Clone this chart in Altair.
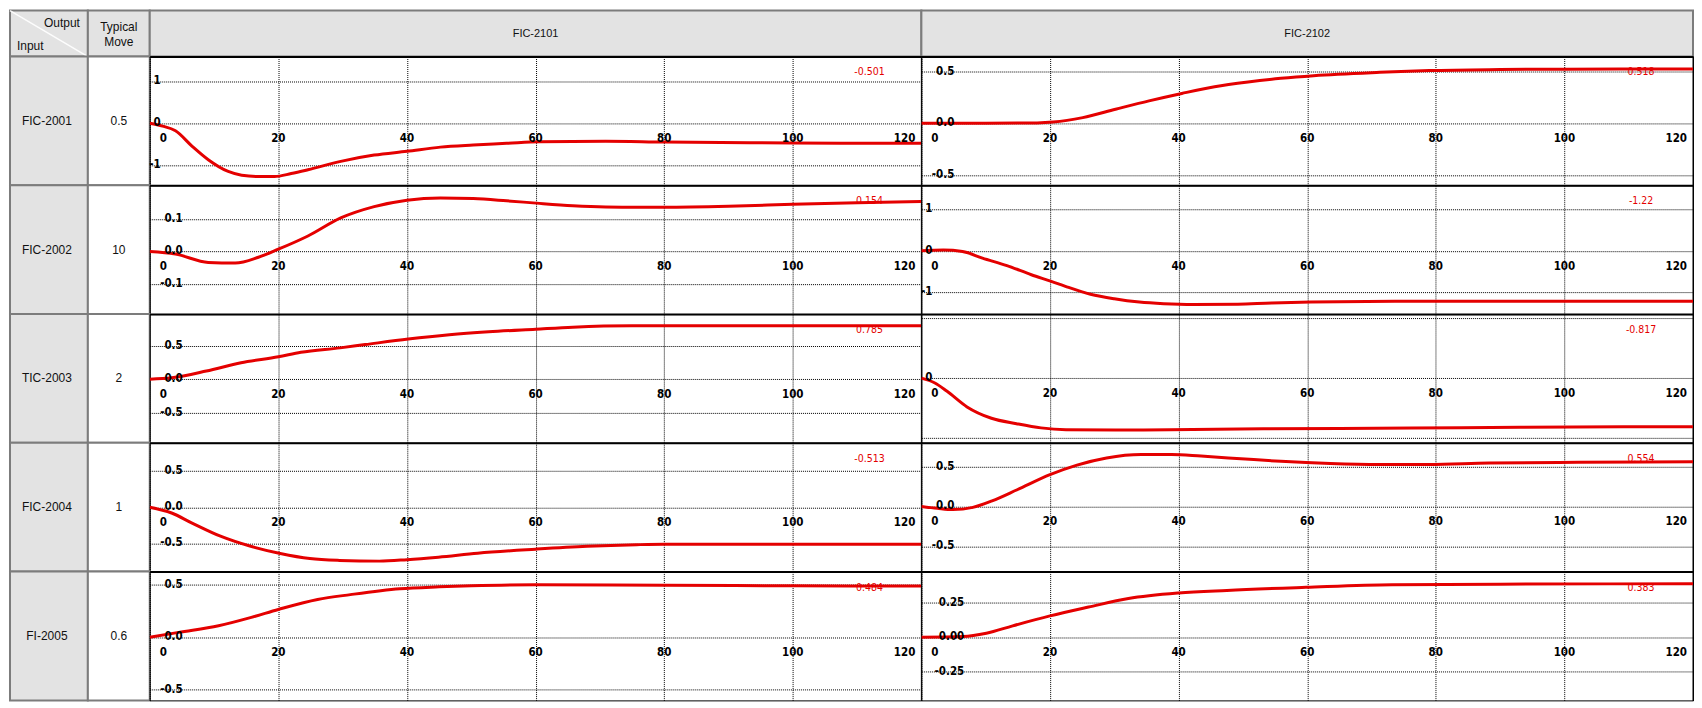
import altair as alt
import pandas as pd

# ---------------- data ----------------
inputs = ["FIC-2001", "FIC-2002", "TIC-2003", "FIC-2004", "FI-2005"]
typical_moves = ["0.5", "10", "2", "1", "0.6"]
outputs = ["FIC-2101", "FIC-2102"]
corner_top = "Output"
corner_bottom = "Input"
move_header = "Typical\nMove"

x_ticks = [0, 20, 40, 60, 80, 100, 120]
x_tick_labels = ["0", "20", "40", "60", "80", "100", "120"]

# FIC-2001 -> FIC-2101
t_11 = [0, 2, 4, 6.6, 9.1, 12.2, 14.3, 17, 19.4, 22, 24.6, 29.7, 34.9, 40, 45.2, 50.3, 55.5, 60.6, 70.9, 80, 100, 120]
v_11 = [0, -0.07, -0.18, -0.55, -0.87, -1.15, -1.24, -1.27, -1.27, -1.2, -1.11, -0.91, -0.76, -0.67, -0.57, -0.52, -0.48, -0.44, -0.43, -0.45, -0.47, -0.48]
yd_11 = [-1.48, 1.59]
yg_11 = [-1, 0, 1]
yl_11 = ["-1", "0", "1"]
gain_11 = "-0.501"

# FIC-2001 -> FIC-2102
t_12 = [0, 10, 18, 20.5, 25.1, 30.2, 35.4, 40.5, 45.6, 50.8, 55.9, 61, 71.3, 79, 90, 100, 120]
v_12 = [0, 0, 0.004, 0.012, 0.055, 0.136, 0.217, 0.289, 0.354, 0.40, 0.435, 0.461, 0.493, 0.51, 0.52, 0.524, 0.526]
yd_12 = [-0.60, 0.646]
yg_12 = [-0.5, 0, 0.5]
yl_12 = ["-0.5", "0.0", "0.5"]
gain_12 = "0.518"

# FIC-2002 -> FIC-2101
t_21 = [0, 4, 9.1, 13.3, 16.9, 20, 24.6, 29.7, 34.9, 40, 45.2, 50.3, 55.5, 60.6, 65.8, 70.9, 76, 80, 90, 100, 110, 120]
v_21 = [0, -0.008, -0.034, -0.036, -0.018, 0.007, 0.048, 0.104, 0.139, 0.159, 0.166, 0.164, 0.157, 0.149, 0.142, 0.138, 0.137, 0.137, 0.14, 0.146, 0.151, 0.155]
yd_21 = [-0.194, 0.205]
yg_21 = [-0.1, 0, 0.1]
yl_21 = ["-0.1", "0.0", "0.1"]
gain_21 = "0.154"

# FIC-2002 -> FIC-2102
t_22 = [0, 3.4, 6.4, 9.5, 13.3, 17.1, 20.2, 22.4, 26.3, 30, 33.9, 37.7, 42.3, 49.2, 54.5, 60.6, 75.9, 90, 120]
v_22 = [0, 0.015, -0.02, -0.18, -0.36, -0.58, -0.74, -0.86, -1.05, -1.16, -1.24, -1.28, -1.30, -1.29, -1.26, -1.24, -1.22, -1.22, -1.22]
yd_22 = [-1.53, 1.58]
yg_22 = [-1, 0, 1]
yl_22 = ["-1", "0", "1"]
gain_22 = "-1.22"

# TIC-2003 -> FIC-2101
t_31 = [0, 3.4, 8.8, 14.2, 20, 23.5, 29.6, 33.5, 40.2, 46.6, 52.7, 60, 65.8, 75, 80, 120]
v_31 = [0, 0.02, 0.12, 0.245, 0.333, 0.40, 0.466, 0.515, 0.598, 0.662, 0.706, 0.745, 0.775, 0.795, 0.795, 0.795]
yd_31 = [-0.95, 0.97]
yg_31 = [-0.5, 0, 0.5]
yl_31 = ["-0.5", "0.0", "0.5"]
gain_31 = "0.785"

# TIC-2003 -> FIC-2102
t_32 = [0, 2.1, 4, 7.1, 10.9, 14.8, 18.6, 22.5, 30.2, 38.6, 53.2, 76.3, 93.2, 120]
v_32 = [0, -0.08, -0.22, -0.48, -0.67, -0.76, -0.83, -0.86, -0.866, -0.86, -0.845, -0.834, -0.818, -0.81]
yd_32 = [-1.08, 1.07]
yg_32 = [-1, 0, 1]
yl_32 = ["", "0", ""]
gain_32 = "-0.817"

# FIC-2004 -> FIC-2101
t_41 = [0, 3.4, 6.5, 11, 15.7, 20.3, 24.9, 29.5, 35.7, 40, 44.9, 51, 60, 68, 75.7, 80, 120]
v_41 = [0, -0.08, -0.215, -0.40, -0.54, -0.64, -0.71, -0.735, -0.745, -0.725, -0.69, -0.635, -0.58, -0.54, -0.518, -0.512, -0.512]
yd_41 = [-0.89, 0.89]
yg_41 = [-0.5, 0, 0.5]
yl_41 = ["-0.5", "0.0", "0.5"]
gain_41 = "-0.513"

# FIC-2004 -> FIC-2102
t_42 = [0, 2.5, 4.9, 8, 11, 14.9, 20, 24.2, 28.8, 34.2, 38.9, 43.5, 49.7, 55.9, 63.6, 71.3, 79, 88.3, 102.2, 120]
v_42 = [0, -0.024, -0.04, -0.012, 0.07, 0.21, 0.40, 0.52, 0.61, 0.653, 0.653, 0.633, 0.60, 0.567, 0.539, 0.527, 0.527, 0.547, 0.555, 0.563]
yd_42 = [-0.82, 0.80]
yg_42 = [-0.5, 0, 0.5]
yl_42 = ["-0.5", "0.0", "0.5"]
gain_42 = "0.554"

# FI-2005 -> FIC-2101
t_51 = [0, 4.5, 10.7, 15.8, 20, 26.1, 31.2, 38.9, 45, 50, 60, 80, 100, 120]
v_51 = [0, 0.047, 0.11, 0.19, 0.265, 0.36, 0.406, 0.462, 0.48, 0.49, 0.50, 0.495, 0.49, 0.487]
yd_51 = [-0.60, 0.625]
yg_51 = [-0.5, 0, 0.5]
yl_51 = ["-0.5", "0.0", "0.5"]
gain_51 = "0.484"

# FI-2005 -> FIC-2102
t_52 = [0, 6.5, 10.1, 14.2, 20, 26, 32.2, 40, 47.5, 59.8, 73.2, 90, 120]
v_52 = [0, 0.005, 0.029, 0.083, 0.155, 0.219, 0.281, 0.321, 0.34, 0.362, 0.381, 0.385, 0.388]
yd_52 = [-0.457, 0.476]
yg_52 = [-0.25, 0, 0.25]
yl_52 = ["-0.25", "0.00", "0.25"]
gain_52 = "0.383"

panel_data = [
    [(t_11, v_11, yd_11, yg_11, yl_11, gain_11), (t_12, v_12, yd_12, yg_12, yl_12, gain_12)],
    [(t_21, v_21, yd_21, yg_21, yl_21, gain_21), (t_22, v_22, yd_22, yg_22, yl_22, gain_22)],
    [(t_31, v_31, yd_31, yg_31, yl_31, gain_31), (t_32, v_32, yd_32, yg_32, yl_32, gain_32)],
    [(t_41, v_41, yd_41, yg_41, yl_41, gain_41), (t_42, v_42, yd_42, yg_42, yl_42, gain_42)],
    [(t_51, v_51, yd_51, yg_51, yl_51, gain_51), (t_52, v_52, yd_52, yg_52, yl_52, gain_52)],
]

# ---------------- style ----------------
W_IN, W_TM, W_P = 78, 62, 773
H_HEAD, H_ROW = 46, 129
RED = "#e40000"
HEAD_FILL = "#e3e3e3"
CELL_BORDER = "#7c7c7c"
TICK_FONT = "DejaVu Sans Condensed, DejaVu Sans"
TABLE_FONT = "Liberation Sans"


def panel(t, v, ydom, ygrid, ylabels, gain):
    xsc = alt.Scale(domain=[0, 120], nice=False, zero=False)
    ysc = alt.Scale(domain=ydom, nice=False, zero=False)
    xax = alt.Axis(orient="top", values=x_ticks, grid=True, gridColor="black",
                   gridDash=[1, 1], gridWidth=1, gridOpacity=1, labels=False,
                   ticks=False, domain=True, domainColor="black", domainWidth=2,
                   title=None, minExtent=0, maxExtent=0)
    yax = alt.Axis(orient="right", values=ygrid, grid=True, gridColor="black",
                   gridDash=[1, 1], gridWidth=1, gridOpacity=1, labels=False,
                   ticks=False, domain=True, domainColor="black", domainWidth=2,
                   title=None, minExtent=0, maxExtent=0)
    X = alt.X("t:Q", scale=xsc, axis=xax)
    Y = alt.Y("v:Q", scale=ysc, axis=yax)

    line = alt.Chart(pd.DataFrame({"t": t, "v": v})).mark_line(
        color=RED, strokeWidth=3, interpolate="monotone", clip=True
    ).encode(x=X, y=Y)

    maxlen = max(len(s.lstrip("-")) for s in ylabels)
    right_edge = {1: 11, 3: 33, 4: 43}.get(maxlen, 33)
    ylab_df = pd.DataFrame({"t": [x_ticks[0]] * len(ygrid), "v": ygrid, "lab": ylabels})
    ylab = alt.Chart(ylab_df).mark_text(
        align="right", baseline="middle", dx=right_edge, font=TICK_FONT,
        fontSize=11.5, fontWeight="bold", color="black"
    ).encode(x=X, y=Y, text="lab:N")

    def xl(idx, align, dx):
        df = pd.DataFrame({"t": [x_ticks[i] for i in idx], "v": [0] * len(idx),
                           "lab": [x_tick_labels[i] for i in idx]})
        return alt.Chart(df).mark_text(
            align=align, baseline="alphabetic", dx=dx, dy=19, font=TICK_FONT,
            fontSize=11.5, fontWeight="bold", color="black"
        ).encode(x=X, y=Y, text="lab:N")

    xl_first = xl([0], "left", 10)
    xl_mid = xl(list(range(1, len(x_ticks) - 1)), "center", 0)
    xl_last = xl([len(x_ticks) - 1], "right", -6)

    gtxt = alt.Chart(pd.DataFrame({"g": [gain]})).mark_text(
        align="center", baseline="middle", font=TICK_FONT, fontSize=10.5,
        color=RED
    ).encode(x=alt.value(W_P - 52), y=alt.value(16), text="g:N")

    return alt.layer(line, ylab, xl_first, xl_mid, xl_last, gtxt).properties(
        width=W_P, height=H_ROW,
        view=alt.ViewBackground(fill="white", stroke="black", strokeWidth=1),
    )


def cell(label, width, height, fill, font_size=12, dx=0):
    return alt.Chart(pd.DataFrame({"s": [label]})).mark_text(
        font=TABLE_FONT, fontSize=font_size, color="#111", baseline="middle", dx=dx
    ).encode(text="s:N").properties(
        width=width, height=height,
        view=alt.ViewBackground(fill=fill, stroke=CELL_BORDER, strokeWidth=2))


# ---------------- header ----------------
corner = alt.layer(
    alt.Chart(pd.DataFrame({"a": [0]})).mark_rule(color="white", strokeWidth=1.5, opacity=0.9).encode(
        x=alt.value(0), y=alt.value(0), x2=alt.value(W_IN), y2=alt.value(H_HEAD)),
    alt.Chart(pd.DataFrame({"s": [corner_top]})).mark_text(
        align="right", baseline="middle", font=TABLE_FONT, fontSize=12, color="#111").encode(
        x=alt.value(W_IN - 8), y=alt.value(12), text="s:N"),
    alt.Chart(pd.DataFrame({"s": [corner_bottom]})).mark_text(
        align="left", baseline="middle", font=TABLE_FONT, fontSize=12, color="#111").encode(
        x=alt.value(7), y=alt.value(35), text="s:N"),
).properties(width=W_IN, height=H_HEAD,
             view=alt.ViewBackground(fill=HEAD_FILL, stroke=CELL_BORDER, strokeWidth=2))

move_head = alt.Chart(pd.DataFrame({"s": [move_header]})).mark_text(
    font=TABLE_FONT, fontSize=12, color="#111", lineBreak="\n", lineHeight=15,
    baseline="middle", dy=-7
).encode(text="s:N").properties(
    width=W_TM, height=H_HEAD,
    view=alt.ViewBackground(fill=HEAD_FILL, stroke=CELL_BORDER, strokeWidth=2))

cells = [corner, move_head]
for o in outputs:
    cells.append(cell(o, W_P, H_HEAD, HEAD_FILL, font_size=11))

for r in range(len(inputs)):
    cells.append(cell(inputs[r], W_IN, H_ROW, HEAD_FILL, dx=-2))
    cells.append(cell(typical_moves[r], W_TM, H_ROW, "white"))
    for c in range(len(outputs)):
        cells.append(panel(*panel_data[r][c]))

chart = alt.concat(*cells, columns=4, spacing=0, bounds="flush").properties(
    padding=0, background="white"
).configure_view(stroke="transparent")

chart.save("out.html", embed_options={"renderer": "svg", "actions": False})
